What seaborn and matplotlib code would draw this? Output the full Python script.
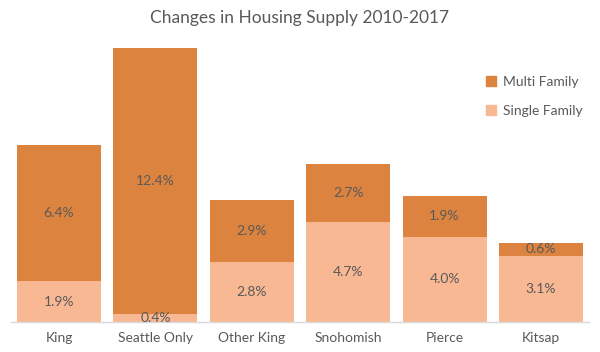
import matplotlib
matplotlib.use("Agg")
import matplotlib.pyplot as plt
import seaborn as sns
from matplotlib.patches import Patch

categories = ["King", "Seattle Only", "Other King", "Snohomish", "Pierce", "Kitsap"]
single_family = [1.9, 0.4, 2.8, 4.7, 4.0, 3.1]
multi_family = [6.4, 12.4, 2.9, 2.7, 1.9, 0.6]

c_multi = "#DC843F"
c_single = "#F8B893"
txt = "#595959"

sns.set_theme(style="white")
plt.rcParams["font.family"] = ["Lato", "DejaVu Sans"]

fig = plt.figure(figsize=(6.0, 3.52), dpi=100)
ax = fig.add_axes([0.018, 0.085, 0.964, 0.79])

sns.barplot(x=categories, y=single_family, color=c_single, width=0.87,
            saturation=1, ax=ax, linewidth=0)
sns.barplot(x=categories, y=multi_family, bottom=single_family, color=c_multi,
            width=0.87, saturation=1, ax=ax, linewidth=0)

for cont, vals in zip(ax.containers, [single_family, multi_family]):
    ax.bar_label(cont, labels=[f"{v:.1f}%" for v in vals], label_type="center",
                 color=txt, fontsize=10)

ax.set_ylim(0, 13)
ax.set_xlim(-0.5, 5.5)
ax.set_yticks([])
for s in ["top", "right", "left"]:
    ax.spines[s].set_visible(False)
ax.spines["bottom"].set_color("#D9D9D9")
ax.spines["bottom"].set_linewidth(1)
ax.tick_params(axis="x", length=0, pad=7, labelsize=10, labelcolor=txt)

fig.text(0.5, 0.95, "Changes in Housing Supply 2010-2017", ha="center", va="center",
         fontsize=12.5, color=txt)

handles = [Patch(color=c_multi, label="Multi Family"), Patch(color=c_single, label="Single Family")]
leg = ax.legend(handles=handles, loc="upper left", bbox_to_anchor=(0.8, 0.93),
                frameon=False, fontsize=10, handlelength=0.7, handleheight=0.7,
                labelspacing=1.2, handletextpad=0.5, labelcolor=txt)

fig.savefig("out.png", dpi=100)
